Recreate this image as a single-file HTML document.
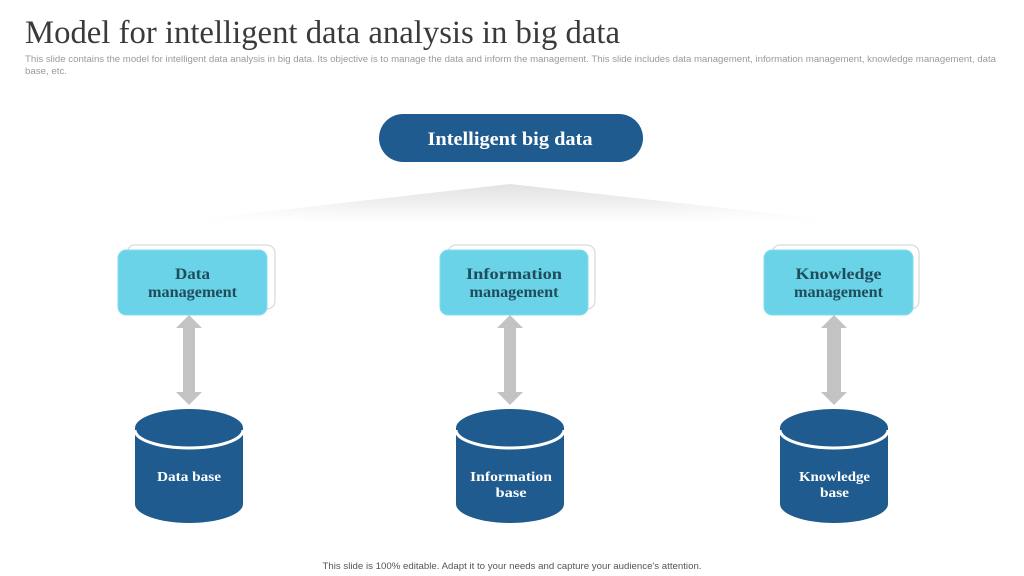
<!DOCTYPE html>
<html>
<head>
<meta charset="utf-8">
<style>
  html,body{margin:0;padding:0;background:#fff;}
  svg{display:block;}
</style>
</head>
<body>
<svg width="1024" height="576" viewBox="0 0 1024 576" xmlns="http://www.w3.org/2000/svg">
  <defs>
    <linearGradient id="shad" x1="0" y1="0" x2="0" y2="1">
      <stop offset="0" stop-color="#e2e2e2"/>
      <stop offset="0.5" stop-color="#f0f0f0"/>
      <stop offset="1" stop-color="#ffffff"/>
    </linearGradient>
    <linearGradient id="shadH" x1="0" y1="0" x2="1" y2="0">
      <stop offset="0" stop-color="#fff" stop-opacity="0.9"/>
      <stop offset="0.3" stop-color="#fff" stop-opacity="0"/>
      <stop offset="0.7" stop-color="#fff" stop-opacity="0"/>
      <stop offset="1" stop-color="#fff" stop-opacity="0.9"/>
    </linearGradient>
  </defs>

  <!-- Title -->
  <text x="25" y="43" font-family="'Liberation Serif', serif" font-size="33" fill="#3a3a3a" textLength="595" lengthAdjust="spacingAndGlyphs">Model for intelligent data analysis in big data</text>
  <text x="25" y="62" font-family="'Liberation Sans', sans-serif" font-size="9" fill="#9a9a9a" textLength="971" lengthAdjust="spacingAndGlyphs">This slide contains the model for intelligent data analysis in big data. Its objective is to manage the data and inform the management. This slide includes data management, information management, knowledge management, data</text>
  <text x="25" y="74" font-family="'Liberation Sans', sans-serif" font-size="9" fill="#9a9a9a" textLength="42" lengthAdjust="spacingAndGlyphs">base, etc.</text>

  <!-- Top pill -->
  <rect x="379" y="114" width="264" height="48" rx="24" ry="24" fill="#1f5b8e"/>
  <text x="510" y="145" text-anchor="middle" font-family="'Liberation Serif', serif" font-weight="bold" font-size="19" fill="#ffffff" textLength="165" lengthAdjust="spacingAndGlyphs">Intelligent big data</text>

  <!-- Shadow wedge -->
  <polygon points="510,184 858,223 166,223" fill="url(#shad)"/>
  <polygon points="510,184 858,223 166,223" fill="url(#shadH)"/>

  <!-- Boxes -->
  <g font-family="'Liberation Serif', serif" font-weight="bold" font-size="16" fill="#1f4d5c" text-anchor="middle">
    <rect x="127" y="245" width="148" height="64" rx="8" fill="#ffffff" stroke="#d2d2d2" stroke-width="1"/>
    <rect x="118" y="250" width="149" height="65" rx="8" fill="#6bd3e7" stroke="#86dced" stroke-width="1"/>
    <text x="192.5" y="279" textLength="35" lengthAdjust="spacingAndGlyphs">Data</text>
    <text x="192.5" y="297" textLength="89" lengthAdjust="spacingAndGlyphs">management</text>

    <rect x="448" y="245" width="147" height="64" rx="8" fill="#ffffff" stroke="#d2d2d2" stroke-width="1"/>
    <rect x="440" y="250" width="148" height="65" rx="8" fill="#6bd3e7" stroke="#86dced" stroke-width="1"/>
    <text x="514" y="279" textLength="96" lengthAdjust="spacingAndGlyphs">Information</text>
    <text x="514" y="297" textLength="89" lengthAdjust="spacingAndGlyphs">management</text>

    <rect x="772" y="245" width="147" height="64" rx="8" fill="#ffffff" stroke="#d2d2d2" stroke-width="1"/>
    <rect x="764" y="250" width="149" height="65" rx="8" fill="#6bd3e7" stroke="#86dced" stroke-width="1"/>
    <text x="838.5" y="279" textLength="86" lengthAdjust="spacingAndGlyphs">Knowledge</text>
    <text x="838.5" y="297" textLength="89" lengthAdjust="spacingAndGlyphs">management</text>
  </g>

  <!-- Arrows -->
  <g fill="#c3c3c3">
    <polygon points="189,315 202,328 195,328 195,392 202,392 189,405 176,392 183,392 183,328 176,328"/>
    <polygon points="510,315 523,328 516,328 516,392 523,392 510,405 497,392 504,392 504,328 497,328"/>
    <polygon points="834,315 847,328 841,328 841,392 847,392 834,405 821,392 827,392 827,328 821,328"/>
  </g>

  <!-- Cylinders -->
  <g fill="#1f5b8e">
    <path d="M135,428 L135,504 A54,19 0 0 0 243,504 L243,428 A54,19 0 0 0 135,428 Z"/>
    <path d="M456,428 L456,504 A54,19 0 0 0 564,504 L564,428 A54,19 0 0 0 456,428 Z"/>
    <path d="M780,428 L780,504 A54,19 0 0 0 888,504 L888,428 A54,19 0 0 0 780,428 Z"/>
  </g>
  <g fill="none" stroke="#ffffff" stroke-width="3">
    <path d="M135,430 A54,18 0 0 0 243,430"/>
    <path d="M456,430 A54,18 0 0 0 564,430"/>
    <path d="M780,430 A54,18 0 0 0 888,430"/>
  </g>
  <g font-family="'Liberation Serif', serif" font-weight="bold" font-size="14" fill="#ffffff" text-anchor="middle">
    <text x="189" y="481" textLength="64" lengthAdjust="spacingAndGlyphs">Data base</text>
    <text x="511" y="481" textLength="82" lengthAdjust="spacingAndGlyphs">Information</text>
    <text x="511" y="497" textLength="31" lengthAdjust="spacingAndGlyphs">base</text>
    <text x="834.5" y="481" textLength="71" lengthAdjust="spacingAndGlyphs">Knowledge</text>
    <text x="834.5" y="497" textLength="29" lengthAdjust="spacingAndGlyphs">base</text>
  </g>

  <!-- Footer -->
  <text x="512" y="569" text-anchor="middle" font-family="'Liberation Sans', sans-serif" font-size="9" fill="#555555" textLength="379" lengthAdjust="spacingAndGlyphs">This slide is 100% editable. Adapt it to your needs and capture your audience's attention.</text>
</svg>
</body>
</html>
